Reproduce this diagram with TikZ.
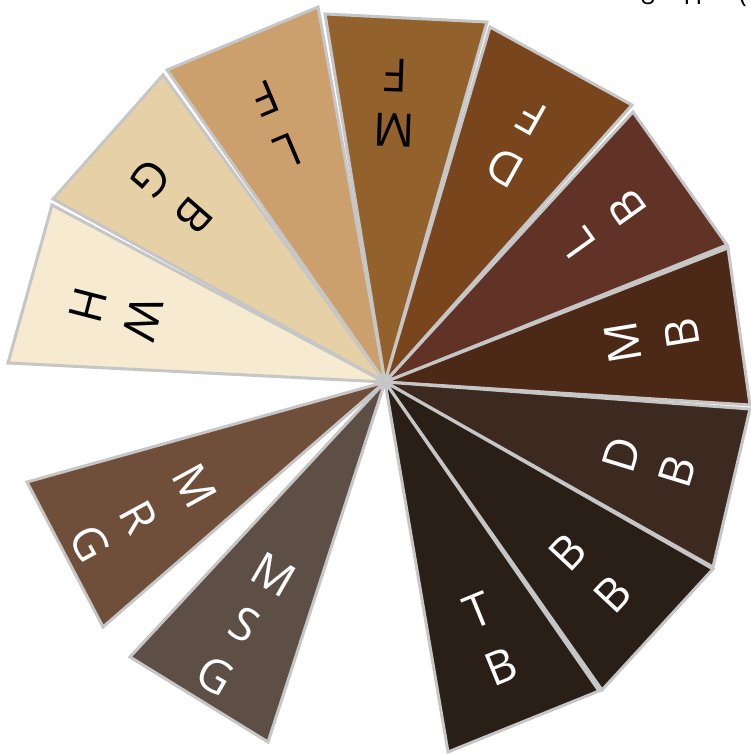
\documentclass[tikz,border=0pt]{standalone}
\usepackage{fontspec}
\setmainfont{Open Sans}
\definecolor{edgegray}{HTML}{C6C6C6}
\definecolor{cWH}{HTML}{F6EAD0}
\definecolor{cBG}{HTML}{E6D0A6}
\definecolor{cLF}{HTML}{CCA06D}
\definecolor{cMF}{HTML}{93622C}
\definecolor{cDF}{HTML}{78451D}
\definecolor{cLB}{HTML}{613326}
\definecolor{cMB}{HTML}{4C2816}
\definecolor{cDB}{HTML}{3C2A20}
\definecolor{cBB}{HTML}{2A1F17}
\definecolor{cTB}{HTML}{2A1F17}
\definecolor{cMSG}{HTML}{5E4F46}
\definecolor{cMRG}{HTML}{6F4E3A}
\newcommand\lbl[5]{\node[#1, rotate=#3+90] (#5) at ([shift={(#3:#2)}]C) {#4};}
\begin{document}
\begin{tikzpicture}[x=1pt,y=1pt,
  wedge/.style={draw=edgegray, line width=3pt},
  lab/.style={inner sep=0pt, font=\fontsize{46}{46}\selectfont},
  dk/.style={lab, text=black},
  lt/.style={lab, text=white},
  topt/.style={inner sep=0pt, anchor=base, font=\fontsize{26}{26}\selectfont, text=black}]
\useasboundingbox (0,0) rectangle (751,754);
\coordinate (C) at (385,372);
% outer corners
\coordinate (wh1) at (8,391);    \coordinate (wh2) at (52,549);
\coordinate (bg1) at (53,555);   \coordinate (bg2) at (163,679);
\coordinate (lf1) at (167,684);  \coordinate (lf2) at (318,747);
\coordinate (mf1) at (325,740);  \coordinate (mf2) at (487,732);
\coordinate (df1) at (490,727);  \coordinate (df2) at (632,649);
\coordinate (lb1) at (633,642);  \coordinate (lb2) at (727,509);
\coordinate (mb1) at (728,506);  \coordinate (mb2) at (750,349);
\coordinate (db1) at (750,345);  \coordinate (db2) at (713,187);
\coordinate (bb1) at (713,185);  \coordinate (bb2) at (602,64);
\coordinate (tb1) at (599,63);   \coordinate (tb2) at (448,2);
\coordinate (sg1) at (130,97);   \coordinate (sg2) at (268,12);
\coordinate (rg1) at (27,272);   \coordinate (rg2) at (103,127);
% wedges
\filldraw[wedge, fill=cWH] (C) -- (wh1) -- (wh2) -- cycle;
\filldraw[wedge, fill=cBG] (C) -- (bg1) -- (bg2) -- cycle;
\filldraw[wedge, fill=cLF] (C) -- (lf1) -- (lf2) -- cycle;
\filldraw[wedge, fill=cMF] (C) -- (mf1) -- (mf2) -- cycle;
\filldraw[wedge, fill=cDF] (C) -- (df1) -- (df2) -- cycle;
\filldraw[wedge, fill=cLB] (C) -- (lb1) -- (lb2) -- cycle;
\filldraw[wedge, fill=cMB] (C) -- (mb1) -- (mb2) -- cycle;
\filldraw[wedge, fill=cDB] (C) -- (db1) -- (db2) -- cycle;
\filldraw[wedge, fill=cBB] (C) -- (bb1) -- (bb2) -- cycle;
\filldraw[wedge, fill=cTB] (C) -- (tb1) -- (tb2) -- cycle;
\filldraw[wedge, fill=cMSG] (C) -- (sg1) -- (sg2) -- cycle;
\filldraw[wedge, fill=cMRG] (C) -- (rg1) -- (rg2) -- cycle;
% labels
\lbl{dk}{250}{165.5}{W}{whA} \lbl{dk}{307}{165.5}{H}{whB}
\lbl{dk}{253}{139}{B}{bgA}   \lbl{dk}{310}{139}{G}{bgB}
\lbl{dk}{250}{112.8}{L}{lfA} \lbl{dk}{308}{112.8}{F}{lfB}
\lbl{dk}{252}{88}{M}{mfA}    \lbl{dk}{307}{88}{F}{mfB}
\lbl{lt}{245}{60.8}{D}{dfA}  \lbl{lt}{302}{60.8}{F}{dfB}
\lbl{lt}{238}{35.7}{L}{lbA}  \lbl{lt}{299}{35.7}{B}{lbB}
\lbl{lt}{241}{9.3}{M}{mbA}   \lbl{lt}{301}{9.3}{B}{mbB}
\lbl{lt}{248}{-17}{D}{dbA}   \lbl{lt}{306}{-17}{B}{dbB}
\lbl{lt}{250}{-43}{B}{bbA}   \lbl{lt}{311}{-43}{B}{bbB}
\lbl{lt}{247}{-67.8}{T}{tbA} \lbl{lt}{308}{-67.8}{B}{tbB}
\lbl{lt}{222}{-120}{M}{sgA}  \lbl{lt}{280}{-120}{S}{sgB}  \lbl{lt}{339}{-120}{G}{sgC}
\lbl{lt}{217}{-151.3}{M}{rgA}\lbl{lt}{281}{-151.3}{R}{rgB}\lbl{lt}{336}{-151.3}{G}{rgC}
% cut-off text at the top edge, as in the reference
\node[topt] (t1) at (648,749) {8};
\node[topt] (t2) at (693,749) {H};
\node[topt] (t3) at (743,751) {(};
\end{tikzpicture}
\end{document}
